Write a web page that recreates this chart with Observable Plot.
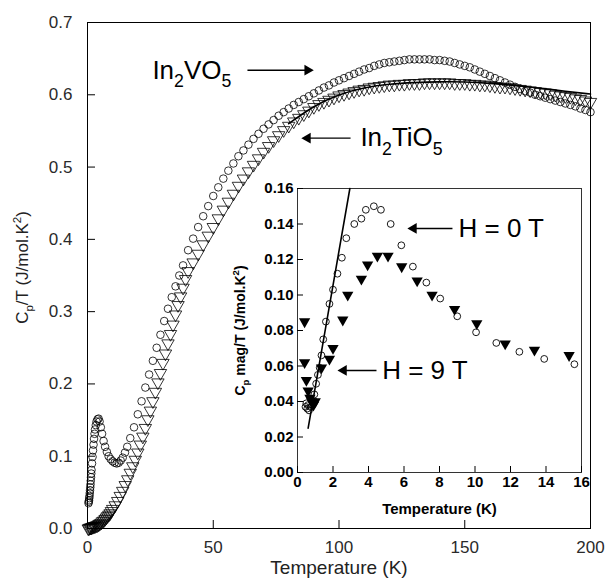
<!DOCTYPE html>
<html><head><meta charset="utf-8">
<script src="https://cdn.jsdelivr.net/npm/d3@7"></script>
<script src="https://cdn.jsdelivr.net/npm/@observablehq/plot@0.6"></script>
<style>
body{margin:0;background:#fff;}
#chart{position:relative;width:612px;height:584px;}
#chart svg{position:absolute;left:0;top:0;overflow:visible;}
</style>
</head><body><div id="chart"></div>
<script>
// ---------- main panel data ----------
const vT = [0.4,0.5,0.6,0.7,0.8,0.9,1.0,1.1,1.2,1.3,1.4,1.5,1.6,1.8,2.0,2.2,2.4,2.6,2.8,3.0,3.3,3.6,4.0,4.4,4.8,5.3,5.8,6.4,7.0,7.7,8.4,9.2,10.0,10.8,11.6,12.4,13.2,14.0,14.9,15.8,17.0,18.5,20.0,21.5,23.0,24.5,26.0,27.5,29.0,30.5,32.0,33.5,35.0,36.5,38.0,
40,42,44,46,48,50,52,54,56,58,60,62,64,66,68,70,72,74,76,78,80,82,84,86,88,90,92,94,96,98,100,102,104,106,108,110,112,114,116,118,120,122,124,126,128,130,132,134,136,138,140,142,144,146,148,150,152,154,156,158,160,162,164,166,168,170,172,174,176,178,180,182,184,186,188,190,192,194,196,198,200];
const vCp = [0.035,0.037,0.039,0.042,0.045,0.049,0.053,0.057,0.061,0.066,0.071,0.076,0.081,0.090,0.099,0.108,0.116,0.124,0.131,0.137,0.143,0.148,0.151,0.152,0.148,0.140,0.131,0.121,0.113,0.106,0.100,0.096,0.093,0.091,0.090,0.091,0.094,0.098,0.105,0.113,0.125,0.140,0.158,0.176,0.195,0.213,0.232,0.250,0.268,0.287,0.304,0.320,0.335,0.350,0.364,
0.385,0.401,0.417,0.432,0.446,0.460,0.472,0.484,0.495,0.505,0.515,0.523,0.531,0.539,0.546,0.553,0.559,0.565,0.571,0.576,0.581,0.586,0.590,0.594,0.598,0.602,0.606,0.610,0.613,0.617,0.620,0.623,0.626,0.629,0.632,0.635,0.637,0.640,0.642,0.644,0.645,0.646,0.647,0.648,0.649,0.649,0.649,0.649,0.649,0.648,0.648,0.647,0.646,0.644,0.642,0.640,0.638,0.635,0.632,0.629,0.626,0.623,0.620,0.617,0.614,0.611,0.608,0.605,0.603,0.600,0.598,0.596,0.594,0.592,0.590,0.588,0.586,0.584,0.581,0.579,0.576];

const tiT = [0.3,0.6,0.9,1.2,1.5,1.8,2.1,2.4,2.7,3.0,3.4,3.8,4.2,4.6,5.0,5.5,6.0,6.5,7.0,7.5,8.0,8.5,9.0,9.5,10,11,12,13,14,15,16,17,18,19,20,21,22,23,24,25,26,27,28,29,30,31,32,33,34,35,36,37,38,39,
40,42,44,46,48,50,52,54,56,58,60,62,64,66,68,70,72,74,76,78,80,82,84,86,88,90,92,94,96,98,100,102,104,106,108,110,112,114,116,118,120,122,124,126,128,130,132,134,136,138,140,142,144,146,148,150,152,154,156,158,160,162,164,166,168,170,172,174,176,178,180,182,184,186,188,190,192,194,196,198,200];
const tiCp = [0.000,0.000,0.001,0.001,0.001,0.002,0.002,0.003,0.003,0.003,0.004,0.004,0.005,0.006,0.007,0.008,0.010,0.011,0.013,0.015,0.017,0.019,0.021,0.024,0.027,0.032,0.038,0.045,0.052,0.060,0.068,0.077,0.086,0.095,0.105,0.116,0.127,0.139,0.151,0.163,0.176,0.189,0.202,0.215,0.229,0.242,0.256,0.269,0.282,0.296,0.309,0.321,0.333,0.345,
0.356,0.368,0.380,0.393,0.405,0.417,0.429,0.441,0.452,0.463,0.474,0.484,0.494,0.503,0.512,0.521,0.529,0.537,0.544,0.551,0.557,0.563,0.568,0.573,0.578,0.583,0.587,0.590,0.593,0.596,0.599,0.601,0.603,0.605,0.607,0.608,0.610,0.611,0.612,0.613,0.614,0.614,0.615,0.615,0.616,0.616,0.616,0.617,0.617,0.617,0.617,0.617,0.617,0.616,0.616,0.616,0.615,0.615,0.614,0.614,0.613,0.612,0.611,0.611,0.610,0.609,0.608,0.607,0.606,0.605,0.604,0.603,0.602,0.600,0.599,0.598,0.597,0.595,0.594,0.592,0.590];

const fitT = [80,90,100,110,120,130,140,150,160,170,180,190,200];
const fitCp = [0.560,0.585,0.601,0.610,0.615,0.617,0.618,0.618,0.616,0.613,0.609,0.605,0.601];

const mainXTicks = [0,50,100,150,200];
const mainYTicks = [0,0.1,0.2,0.3,0.4,0.5,0.6,0.7];

// annotation anchors (data units)
const labelNames = ["In_{2}VO_{5}", "In_{2}TiO_{5}"];
const labelT = [25.8, 108.5];
const labelCp = [0.634, 0.540];
const arrowFromT = [63.6, 104.6];
const arrowToT = [87.5, 87.5];

// ---------- inset data ----------
const h0T = [0.45,0.5,0.55,0.6,0.65,0.75,0.85,0.95,1.05,1.15,1.25,1.35,1.45,1.6,1.8,2.0,2.25,2.5,2.75,3.2,3.6,3.85,4.3,4.7,5.25,5.85,6.5,7.26,8.04,9.0,10.06,11.2,12.5,13.9,15.6];
const h0C = [0.037,0.039,0.036,0.038,0.035,0.037,0.040,0.044,0.050,0.055,0.059,0.066,0.075,0.085,0.095,0.103,0.112,0.121,0.132,0.140,0.143,0.148,0.150,0.148,0.140,0.128,0.116,0.107,0.098,0.088,0.079,0.073,0.068,0.064,0.061];
const h9T = [0.4,0.4,0.5,0.6,0.7,0.8,0.9,1.0,1.35,1.8,2.0,2.55,2.83,3.6,3.95,4.5,5.1,5.87,6.74,7.58,8.85,10.1,11.7,13.35,15.3];
const h9C = [0.085,0.062,0.052,0.046,0.042,0.040,0.038,0.040,0.059,0.064,0.070,0.086,0.100,0.109,0.117,0.122,0.122,0.116,0.108,0.100,0.092,0.084,0.0725,0.069,0.066];
const insetFitT = [0.6, 2.95];
const insetFitC = [0.025, 0.16];
const insetXTicks = [0,2,4,6,8,10,12,14,16];
const insetYTicks = [0,0.02,0.04,0.06,0.08,0.10,0.12,0.14,0.16];
const fieldNames = ["H = 0 T", "H = 9 T"];
const fieldT = [9.07, 4.77];
const fieldC = [0.1375, 0.0575];
const fieldArrowFromT = [8.73, 4.45];
const fieldArrowToT = [6.54, 2.6];

// ---------- build tables ----------
const zip = (xs, ys) => xs.map((x, i) => ({x, y: ys[i]}));
const vData = zip(vT, vCp), tiData = zip(tiT, tiCp), fitData = zip(fitT, fitCp);
const h0Data = zip(h0T, h0C), h9Data = zip(h9T, h9C), insetFit = zip(insetFitT, insetFitC);
const labels = labelNames.map((t, i) => ({t, x: labelT[i], y: labelCp[i], x1: arrowFromT[i], x2: arrowToT[i], rot: arrowToT[i] > arrowFromT[i] ? 90 : -90}));
const fields = fieldNames.map((t, i) => ({t, x: fieldT[i], y: fieldC[i], x1: fieldArrowFromT[i], x2: fieldArrowToT[i]}));

const sans = "'Liberation Sans', Arial, Helvetica, sans-serif";

const mainSvg = Plot.plot({
  width: 612, height: 584,
  marginLeft: 87, marginRight: 22, marginTop: 22, marginBottom: 56,
  style: {background: "transparent", fontFamily: sans, color: "#000"},
  x: {domain: [0, 200]},
  y: {domain: [0, 0.7]},
  marks: [
    Plot.frame({stroke: "#000", strokeWidth: 1}),
    Plot.axisX({ticks: mainXTicks, tickSize: -8, tickPadding: 20, fontSize: 17, fill: "#2a2a2a", label: null, tickFormat: d => String(d)}),
    Plot.axisY({ticks: mainYTicks, tickSize: -8, tickPadding: 23, fontSize: 17, fill: "#2a2a2a", label: null, tickFormat: d3.format(".1f")}),
    Plot.text(["Temperature (K)"], {frameAnchor: "bottom", textAnchor: "middle", dy: 45, fontSize: 19, fill: "#222"}),
    Plot.text(["C_{p}/T (J/mol.K^{2})"], {frameAnchor: "left", textAnchor: "middle", rotate: -90, dx: -65, dy: -8, fontSize: 17, fill: "#222"}),
    Plot.dot(tiData, {x: "x", y: "y", symbol: "triangle", rotate: 180, r: 4.6, stroke: "#000", strokeWidth: 0.8, fill: "none"}),
    Plot.dot(vData, {x: "x", y: "y", r: 3.8, stroke: "#000", strokeWidth: 0.8, fill: "none"}),
    Plot.line(fitData, {x: "x", y: "y", stroke: "#000", strokeWidth: 1.6, curve: "basis"}),
    Plot.link(labels, {x1: "x1", x2: "x2", y1: "y", y2: "y", stroke: "#000", strokeWidth: 1.4}),
    Plot.dot(labels, {x: "x2", y: "y", symbol: "triangle", rotate: "rot", r: 4, fill: "#000", stroke: "none"}),
    Plot.text(labels, {x: "x", y: "y", text: "t", textAnchor: "start", fontSize: 26, fill: "#000"})
  ]
});

const insetSvg = Plot.plot({
  width: 612, height: 584,
  marginLeft: 297, marginRight: 31, marginTop: 188, marginBottom: 112,
  style: {background: "transparent", fontFamily: sans, color: "#000"},
  x: {domain: [0, 16]},
  y: {domain: [0, 0.16]},
  marks: [
    Plot.frame({stroke: "#333", strokeWidth: 1}),
    Plot.axisX({ticks: insetXTicks, tickSize: -6, tickPadding: 10, fontSize: 15, fontWeight: "bold", label: null, tickFormat: d => String(d)}),
    Plot.axisY({ticks: insetYTicks, tickSize: -6, tickPadding: 10, fontSize: 15, fontWeight: "bold", label: null, tickFormat: d3.format(".2f")}),
    Plot.text(["Temperature (K)"], {frameAnchor: "bottom", textAnchor: "middle", dy: 41, fontSize: 15, fontWeight: "bold"}),
    Plot.text(["C_{p} mag/T (J/mol.K^{2})"], {frameAnchor: "left", textAnchor: "middle", rotate: -90, dx: -57, fontSize: 14, fontWeight: "bold"}),
    Plot.line(insetFit, {x: "x", y: "y", stroke: "#000", strokeWidth: 1.6}),
    Plot.dot(h9Data, {x: "x", y: "y", symbol: "triangle", rotate: 180, r: 4.2, fill: "#000", stroke: "none"}),
    Plot.dot(h0Data, {x: "x", y: "y", r: 3.4, stroke: "#000", strokeWidth: 0.9, fill: "none"}),
    Plot.link(fields, {x1: "x1", x2: "x2", y1: "y", y2: "y", stroke: "#000", strokeWidth: 1.4}),
    Plot.dot(fields, {x: "x2", y: "y", symbol: "triangle", rotate: -90, r: 4, fill: "#000", stroke: "none"}),
    Plot.text(fields, {x: "x", y: "y", text: "t", textAnchor: "start", fontSize: 26, fontWeight: "normal", fill: "#000"})
  ]
});

const chart = document.getElementById("chart");
chart.append(mainSvg);
chart.append(insetSvg);

// rich text: _{sub} and ^{sup}
function richText(root) {
  root.querySelectorAll("text").forEach(node => {
    const s = node.textContent;
    if (!/[_^]\{/.test(s)) return;
    const fs = parseFloat(getComputedStyle(node).fontSize) || 16;
    while (node.firstChild) node.removeChild(node.firstChild);
    const re = /([_^])\{([^}]*)\}|([^_^]+)/g;
    let m, shift = 0;
    while ((m = re.exec(s))) {
      const ts = document.createElementNS("http://www.w3.org/2000/svg", "tspan");
      let target = 0, size = fs;
      if (m[1] === "_") { target = 0.32 * fs; size = 0.68 * fs; ts.textContent = m[2]; }
      else if (m[1] === "^") { target = -0.42 * fs; size = 0.68 * fs; ts.textContent = m[2]; }
      else ts.textContent = m[3];
      ts.setAttribute("font-size", size);
      if (target !== shift) { ts.setAttribute("dy", target - shift); shift = target; }
      node.appendChild(ts);
    }
  });
}
richText(chart);
</script>
</body></html>
